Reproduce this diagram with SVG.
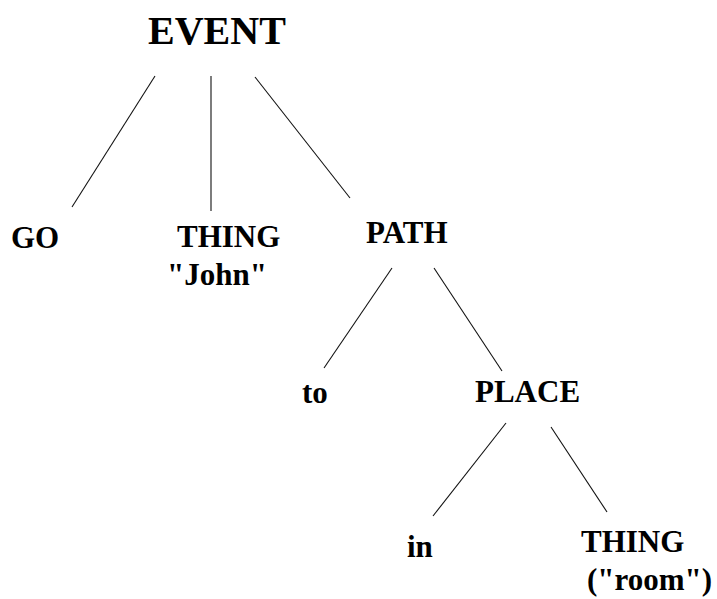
<svg xmlns="http://www.w3.org/2000/svg" width="717" height="599" viewBox="0 0 717 599">
<style>
text{font-family:"Liberation Serif","Times New Roman",serif;font-weight:bold;fill:#000;}
.n{font-size:31px;}
.big{font-size:40px;}
.c line{stroke:#111;stroke-width:1.1;}
</style>
<rect width="717" height="599" fill="#fff"/>
<g class="c" id="connectors">
<line x1="155" y1="76" x2="72" y2="207"/>
<line x1="211" y1="76" x2="211" y2="211"/>
<line x1="255" y1="77" x2="350" y2="198"/>
<line x1="392" y1="268" x2="324" y2="368"/>
<line x1="434" y1="268" x2="502" y2="371"/>
<line x1="506" y1="423" x2="433" y2="516"/>
<line x1="551" y1="427" x2="607" y2="512"/>
</g>
<g id="event"><text class="big" x="148" y="44">EVENT</text></g>
<g id="go"><text class="n" x="11" y="248">GO</text></g>
<g id="thing-john"><text class="n" x="177" y="247">THING</text><text class="n" x="167" y="285">"John"</text></g>
<g id="path"><text class="n" x="366" y="243">PATH</text></g>
<g id="to"><text class="n" x="302" y="403">to</text></g>
<g id="place"><text class="n" x="475" y="402">PLACE</text></g>
<g id="in"><text class="n" x="407" y="557">in</text></g>
<g id="thing-room"><text class="n" x="581" y="552">THING</text><text class="n" x="587" y="590">("room")</text></g>
</svg>
